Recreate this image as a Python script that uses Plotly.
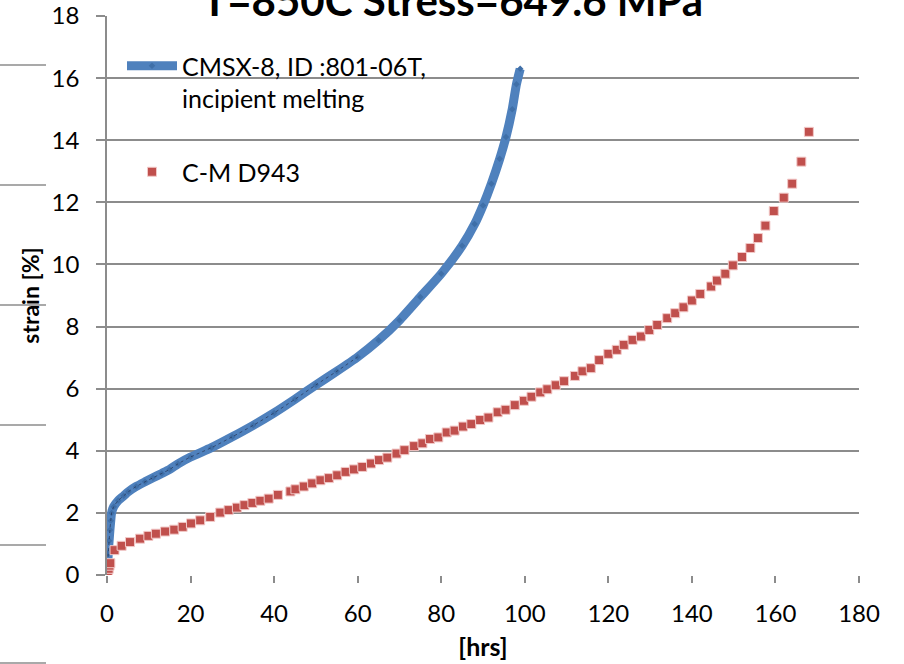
import plotly.graph_objects as go

# ---------------- data ----------------
blue_hrs = [0, 0.15, 0.3, 0.5, 0.7, 0.9, 1.1, 1.6, 2.7, 4.0, 5.1, 7.0, 9.1, 11.0, 13.1,
            15.0, 17.0, 20.0, 25.0, 30.0, 35.0, 40.0, 45.0, 50.0, 55.0, 60.0, 65.0,
            70.0, 75.0, 80.0, 85.0, 88.0, 90.0, 92.0, 94.0, 95.5, 97.0, 98.0, 98.9]
blue_strain = [0, 0.3, 0.7, 1.1, 1.45, 1.75, 2.0, 2.2, 2.4, 2.55, 2.68, 2.85, 3.0, 3.13, 3.27,
               3.4, 3.58, 3.8, 4.1, 4.45, 4.82, 5.22, 5.66, 6.12, 6.56, 7.02, 7.56,
               8.2, 8.95, 9.7, 10.6, 11.3, 11.9, 12.6, 13.4, 14.1, 15.0, 15.8, 16.3]

red_hrs = [0, 0.2, 0.4, 0.6, 0.8, 1.8, 3.5, 5.5, 7.9, 9.9, 11.7, 13.9, 16.1, 18.1, 20.1,
           22.3, 24.7, 27.1, 29.1, 31.1, 32.9, 34.8, 36.7, 38.7, 40.9, 43.9, 45.1, 47.1,
           49.1, 51.1, 53.1, 55.1, 57.1, 59.1, 61.1, 63.2, 65.1, 67.1, 69.3, 71.2, 73.5,
           75.5, 77.3, 79.3, 81.3, 83.2, 85.2, 87.2, 89.3, 91.3, 93.5, 95.4, 97.6, 99.8,
           101.6, 103.7, 105.4, 107.4, 109.4, 112.0, 113.8, 115.8, 117.8, 120.0, 122.0,
           123.7, 125.8, 127.8, 129.8, 131.7, 134.1, 136.0, 138.0, 140.0, 142.0, 144.6,
           146.0, 148.0, 149.8, 152.0, 154.0, 155.8, 157.6, 159.6, 162.0, 164.0, 166.2, 168.0]
red_strain = [0, 0.1, 0.2, 0.3, 0.38, 0.8, 0.94, 1.06, 1.17, 1.26, 1.33, 1.40, 1.46, 1.55, 1.66,
              1.76, 1.87, 2.01, 2.09, 2.17, 2.25, 2.32, 2.39, 2.46, 2.58, 2.69, 2.76, 2.85,
              2.95, 3.05, 3.12, 3.21, 3.32, 3.40, 3.48, 3.59, 3.70, 3.78, 3.91, 4.02, 4.15,
              4.24, 4.38, 4.43, 4.59, 4.65, 4.78, 4.86, 4.99, 5.07, 5.24, 5.32, 5.47, 5.61,
              5.74, 5.88, 5.98, 6.11, 6.24, 6.41, 6.56, 6.66, 6.92, 7.12, 7.25,
              7.41, 7.57, 7.68, 7.89, 8.05, 8.27, 8.43, 8.62, 8.84, 9.05, 9.29,
              9.48, 9.70, 9.97, 10.24, 10.53, 10.85, 11.25, 11.72, 12.15, 12.60, 13.31, 14.27]

x_ticks = [0, 20, 40, 60, 80, 100, 120, 140, 160, 180]
y_ticks = [0, 2, 4, 6, 8, 10, 12, 14, 16, 18]

blue_name = "CMSX-8, ID :801-06T,<br>incipient melting"
red_name = "C-M D943"
title_text = "T=850C Stress=649.6 MPa"

# ---------------- style ----------------
W, H = 904, 664
ML, MR, MT, MB = 107, 45, 16, 89
FONT = "Lato, 'Open Sans', sans-serif"
GRID = "#8c8c8c"
BLUE = "#4F81BD"
RED = "#C0504D"

fig = go.Figure()

fig.add_trace(go.Scatter(
    x=blue_hrs, y=blue_strain, name=blue_name, mode="lines+markers",
    line=dict(color=BLUE, width=9, shape="spline", smoothing=0.6),
    marker=dict(symbol="diamond", size=5, color="#3f6fa8"),
    legendgroup="a", legendrank=1,
))
n_early = sum(1 for v in blue_hrs if v <= 60)
fig.add_trace(go.Scatter(
    x=blue_hrs[:n_early], y=blue_strain[:n_early], mode="lines", showlegend=False,
    line=dict(color="rgba(20,20,40,0.5)", width=1, dash="dot", shape="spline", smoothing=0.6),
    hoverinfo="skip",
))
fig.add_trace(go.Scatter(
    x=red_hrs, y=red_strain, name=red_name, mode="markers",
    marker=dict(symbol="square", size=9, color=RED, line=dict(color="#f2c9c8", width=1)),
    legendgroup="b", legendrank=2,
))

# stray gray segments on the left edge
pw = W - ML - MR
ph = H - MT - MB
for ypx in [65, 185, 305, 425, 545, 663]:
    fig.add_shape(type="line", xref="paper", yref="paper",
                  x0=(0 - ML) / pw, x1=(46 - ML) / pw,
                  y0=(H - MB - ypx) / ph, y1=(H - MB - ypx) / ph,
                  line=dict(color=GRID, width=1.5), layer="above")

fig.add_annotation(
    text="<b>" + title_text + "</b>", xref="paper", yref="paper",
    x=(452 - ML) / pw, y=1.0, xanchor="center", yanchor="bottom",
    yshift=-11, showarrow=False, font=dict(family=FONT, size=42, color="black"),
)

fig.update_layout(
    width=W, height=H,
    margin=dict(l=ML, r=MR, t=MT, b=MB, pad=0, autoexpand=False),
    paper_bgcolor="white", plot_bgcolor="white",
    font=dict(family=FONT, color="black"),
    showlegend=True,
    legend=dict(x=(122 - ML) / pw, y=(H - MB - 43) / ph, xanchor="left", yanchor="top",
                bgcolor="rgba(0,0,0,0)", font=dict(family=FONT, size=25, color="black"),
                valign="top", traceorder="grouped", tracegroupgap=38, itemwidth=50),
    xaxis=dict(range=[0, 180], tickvals=x_ticks, showgrid=False, zeroline=False,
               showline=False, ticks="outside", ticklen=7, tickcolor=GRID, tickwidth=1.5,
               tickfont=dict(family=FONT, size=24), ticklabelstandoff=10, automargin=False,
               title=dict(text="<b>[hrs]</b>", font=dict(family=FONT, size=25), standoff=12)),
    yaxis=dict(range=[0, 18], tickvals=y_ticks, showgrid=True, gridcolor=GRID, gridwidth=1.5,
               zeroline=False, showline=True, linecolor=GRID, linewidth=1.5,
               ticks="outside", ticklen=9, tickcolor=GRID, tickwidth=1.5,
               tickfont=dict(family=FONT, size=24), ticklabelstandoff=12, automargin=False,
               title=dict(text="<b>strain [%]</b>", font=dict(family=FONT, size=23), standoff=6)),
)

fig.write_html("out.html")
